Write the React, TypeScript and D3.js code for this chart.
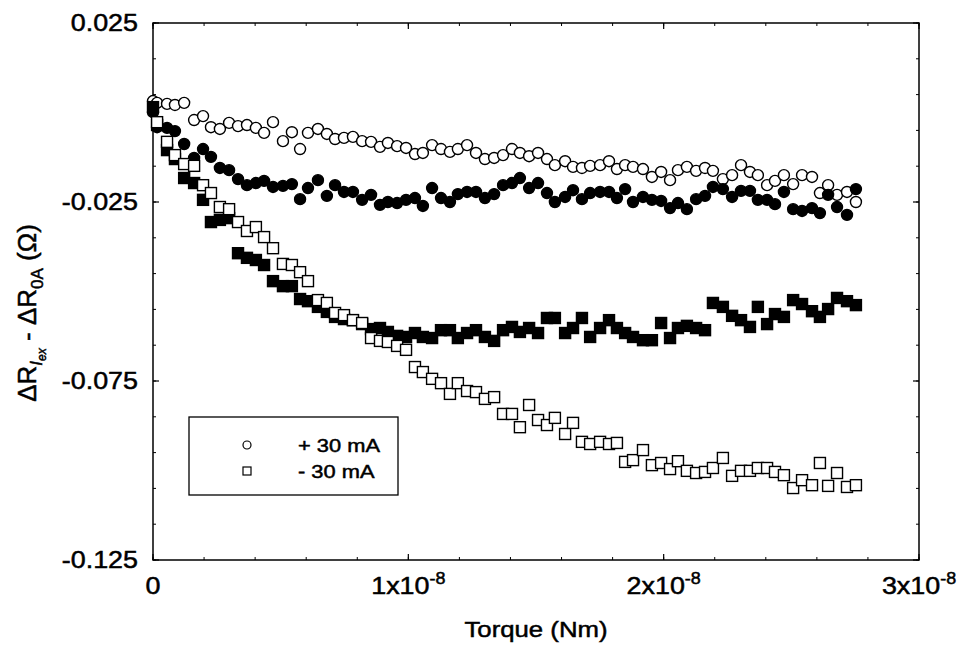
import React from 'react';
import * as d3 from 'd3';

// Torque values (N·m), shared by all four series
const torque = [
  0, 0.016e-8, 0.055e-8, 0.086e-8, 0.122e-8, 0.161e-8, 0.196e-8, 0.227e-8, 0.262e-8, 0.298e-8,
  0.333e-8, 0.368e-8, 0.403e-8, 0.435e-8, 0.470e-8, 0.509e-8, 0.544e-8, 0.576e-8, 0.607e-8, 0.646e-8,
  0.681e-8, 0.713e-8, 0.748e-8, 0.783e-8, 0.819e-8, 0.854e-8, 0.889e-8, 0.920e-8, 0.956e-8, 0.991e-8,
  1.026e-8, 1.057e-8, 1.093e-8, 1.128e-8, 1.163e-8, 1.194e-8, 1.230e-8, 1.265e-8, 1.300e-8, 1.336e-8,
  1.371e-8, 1.406e-8, 1.437e-8, 1.473e-8, 1.508e-8, 1.543e-8, 1.574e-8, 1.614e-8, 1.645e-8, 1.680e-8,
  1.712e-8, 1.751e-8, 1.786e-8, 1.817e-8, 1.849e-8, 1.880e-8, 1.919e-8, 1.954e-8, 1.990e-8, 2.025e-8,
  2.056e-8, 2.091e-8, 2.127e-8, 2.162e-8, 2.193e-8, 2.232e-8, 2.268e-8, 2.303e-8, 2.338e-8, 2.369e-8,
  2.405e-8, 2.436e-8, 2.471e-8, 2.507e-8, 2.542e-8, 2.581e-8, 2.612e-8, 2.644e-8, 2.679e-8, 2.718e-8,
  2.753e-8,
];

// + 30 mA (open circles)
const plus30Open = [
  0.0032, 0.0027, 0.0024, 0.0021, 0.0027, -0.0021, -0.0010, -0.0041, -0.0046, -0.0029,
  -0.0038, -0.0035, -0.0043, -0.0057, -0.0027, -0.0080, -0.0055, -0.0102, -0.0057, -0.0046,
  -0.0060, -0.0074, -0.0071, -0.0068, -0.0080, -0.0082, -0.0096, -0.0085, -0.0094, -0.0099,
  -0.0116, -0.0113, -0.0091, -0.0102, -0.0110, -0.0102, -0.0091, -0.0113, -0.0130, -0.0127,
  -0.0119, -0.0102, -0.0113, -0.0122, -0.0113, -0.0130, -0.0147, -0.0136, -0.0152, -0.0155,
  -0.0149, -0.0147, -0.0136, -0.0158, -0.0147, -0.0152, -0.0158, -0.0180, -0.0166, -0.0189,
  -0.0161, -0.0152, -0.0163, -0.0155, -0.0163, -0.0186, -0.0175, -0.0147, -0.0166, -0.0175,
  -0.0203, -0.0191, -0.0175, -0.0200, -0.0175, -0.0180, -0.0225, -0.0203, -0.0230, -0.0222,
  -0.0250,
];

// filled circles
const plus30Filled = [
  0.0001, -0.0041, -0.0043, -0.0052, -0.0088, -0.0127, -0.0102, -0.0124, -0.0155, -0.0161,
  -0.0186, -0.0203, -0.0197, -0.0191, -0.0208, -0.0205, -0.0200, -0.0242, -0.0211, -0.0189,
  -0.0233, -0.0203, -0.0222, -0.0222, -0.0244, -0.0230, -0.0258, -0.0250, -0.0253, -0.0244,
  -0.0239, -0.0261, -0.0211, -0.0239, -0.0250, -0.0228, -0.0222, -0.0222, -0.0239, -0.0228,
  -0.0203, -0.0197, -0.0183, -0.0211, -0.0197, -0.0225, -0.0250, -0.0236, -0.0217, -0.0242,
  -0.0225, -0.0222, -0.0222, -0.0239, -0.0214, -0.0250, -0.0236, -0.0244, -0.0247, -0.0267,
  -0.0253, -0.0270, -0.0242, -0.0233, -0.0208, -0.0214, -0.0236, -0.0219, -0.0219, -0.0244,
  -0.0244, -0.0256, -0.0222, -0.0270, -0.0275, -0.0267, -0.0281, -0.0230, -0.0264, -0.0286,
  -0.0214,
];

// filled squares
const minus30Filled = [
  0.0015, -0.0035, -0.0105, -0.0130, -0.0183, -0.0197, -0.0244, -0.0306, -0.0300, -0.0295,
  -0.0393, -0.0406, -0.0412, -0.0426, -0.0471, -0.0485, -0.0485, -0.0521, -0.0527, -0.0543,
  -0.0557, -0.0571, -0.0577, -0.0580, -0.0591, -0.0605, -0.0602, -0.0613, -0.0624, -0.0627,
  -0.0616, -0.0627, -0.0630, -0.0608, -0.0608, -0.0630, -0.0616, -0.0608, -0.0627, -0.0638,
  -0.0608, -0.0599, -0.0613, -0.0602, -0.0616, -0.0574, -0.0574, -0.0616, -0.0602, -0.0574,
  -0.0627, -0.0602, -0.0580, -0.0602, -0.0616, -0.0627, -0.0636, -0.0636, -0.0588, -0.0630,
  -0.0602, -0.0596, -0.0602, -0.0608, -0.0532, -0.0543, -0.0568, -0.0580, -0.0599, -0.0543,
  -0.0591, -0.0563, -0.0571, -0.0524, -0.0535, -0.0555, -0.0571, -0.0549, -0.0518, -0.0527,
  -0.0538,
];

// - 30 mA (open squares)
const minus30Open: (number | null)[] = [
  null, -0.0027, -0.0082, -0.0119, -0.0144, -0.0149, -0.0203, -0.0225, -0.0264, -0.0270,
  -0.0306, -0.0331, -0.0320, -0.0348, -0.0379, -0.0423, -0.0426, -0.0446, -0.0471, -0.0524,
  -0.0532, -0.0560, -0.0566, -0.0580, -0.0588, -0.0630, -0.0638, -0.0641, -0.0652, -0.0663,
  -0.0711, -0.0725, -0.0744, -0.0756, -0.0786, -0.0756, -0.0778, -0.0781, -0.0800, -0.0795,
  -0.0842, -0.0842, -0.0879, -0.0817, -0.0859, -0.0873, -0.0853, -0.0898, -0.0867, -0.0920,
  -0.0926, -0.0920, -0.0926, -0.0923, -0.0976, -0.0971, -0.0943, -0.0985, -0.0979, -0.0996,
  -0.0974, -0.1001, -0.1007, -0.1004, -0.0993, -0.0965, -0.1015, -0.1001, -0.1001, -0.0993,
  -0.0993, -0.1004, -0.1013, -0.1049, -0.1027, -0.1041, -0.0979, -0.1043, -0.1007, -0.1046,
  -0.1041,
];

const xMajorTicks = [0, 1e-8, 2e-8, 3e-8];
const xMajorLabels = [
  { base: '0', exp: '' },
  { base: '1x10', exp: '-8' },
  { base: '2x10', exp: '-8' },
  { base: '3x10', exp: '-8' },
];
const yMajorTicks = [0.025, -0.025, -0.075, -0.125];
const yMajorLabels = ['0.025', '-0.025', '-0.075', '-0.125'];
const xMinorStep = 0.2e-8;
const yMinorStep = 0.01;

const legendItems = [
  { symbol: 'circle', label: '+ 30 mA' },
  { symbol: 'square', label: '- 30 mA' },
];

const FONT = 'Liberation Sans, Arial, Helvetica, sans-serif';

export default function App() {
  const W = 959, H = 645;
  const x = d3.scaleLinear().domain([0, 3e-8]).range([153, 919]);
  const y = d3.scaleLinear().domain([-0.125, 0.025]).range([560, 23]);
  const [x0, x1] = x.range();
  const [y0, y1] = y.range();

  const pts = (vals: (number | null)[]) =>
    torque.map((t, i) => ({ t, v: vals[i] })).filter((d) => d.v !== null && d.v !== undefined) as { t: number; v: number }[];

  const xMinor = d3.range(0, 3e-8 + 1e-12, xMinorStep);
  const yMinor = d3.range(-0.125, 0.025 + 1e-9, yMinorStep);

  const R = 5.5;
  const S = 11;
  const sw = 1.4;

  const sx = 1.12;
  const textStroke = { stroke: '#000', strokeWidth: 0.5 };

  return (
    <svg width={W} height={H} style={{ position: 'absolute', left: 0, top: 0, background: '#fff' }} fontFamily={FONT}>
      <rect x={0} y={0} width={W} height={H} fill="#fff" />
      {/* minor ticks */}
      {xMinor.map((t, i) => (
        <g key={'xm' + i} stroke="#000" strokeWidth={1}>
          <line x1={x(t)} x2={x(t)} y1={y0} y2={y0 - 3} />
          <line x1={x(t)} x2={x(t)} y1={y1} y2={y1 + 3} />
        </g>
      ))}
      {yMinor.map((v, i) => (
        <g key={'ym' + i} stroke="#000" strokeWidth={1}>
          <line x1={x0} x2={x0 + 3} y1={y(v)} y2={y(v)} />
          <line x1={x1} x2={x1 - 3} y1={y(v)} y2={y(v)} />
        </g>
      ))}
      {xMajorTicks.map((t, i) => (
        <g key={'xM' + i} stroke="#000" strokeWidth={1.2}>
          <line x1={x(t)} x2={x(t)} y1={y0} y2={y0 - 6} />
          <line x1={x(t)} x2={x(t)} y1={y1} y2={y1 + 6} />
        </g>
      ))}
      {yMajorTicks.map((v, i) => (
        <g key={'yM' + i} stroke="#000" strokeWidth={1.2}>
          <line x1={x0} x2={x0 + 6} y1={y(v)} y2={y(v)} />
          <line x1={x1} x2={x1 - 6} y1={y(v)} y2={y(v)} />
        </g>
      ))}
      {/* frame */}
      <rect x={x0} y={y1} width={x1 - x0} height={y0 - y1} fill="none" stroke="#000" strokeWidth={1.5} />

      {/* tick labels */}
      {yMajorTicks.map((v, i) => (
        <text key={'yl' + i} transform={`translate(${x0 - 15},${y(v) + 8}) scale(${sx},1)`} textAnchor="end" fontSize={24} fill="#000" {...textStroke}>
          {yMajorLabels[i]}
        </text>
      ))}
      {xMajorTicks.map((t, i) => (
        <text key={'xl' + i} transform={`translate(${x(t)},${594}) scale(${sx},1)`} textAnchor="middle" fontSize={24} fill="#000" {...textStroke}>
          {xMajorLabels[i].base}
          {xMajorLabels[i].exp ? (
            <tspan dy={-10} fontSize={16}>{xMajorLabels[i].exp}</tspan>
          ) : null}
        </text>
      ))}

      {/* axis titles */}
      <text transform={`translate(${(x0 + x1) / 2},${637}) scale(${sx},1)`} textAnchor="middle" fontSize={23} fill="#000" {...textStroke}>
        Torque (Nm)
      </text>
      <text transform={`translate(36,313) rotate(-90)`} textAnchor="middle" fontSize={26} fill="#000" {...textStroke}>
        <tspan>ΔR</tspan>
        <tspan dy={6} fontSize={17} fontStyle="italic">I</tspan>
        <tspan dy={4} fontSize={12} fontStyle="italic">ex</tspan>
        <tspan dy={-10}> - ΔR</tspan>
        <tspan dy={7} fontSize={17}>0A</tspan>
        <tspan dy={-7}> (Ω)</tspan>
      </text>

      {/* data */}
      <g fill="#fff" stroke="#000" strokeWidth={sw}>
        {pts(plus30Open).map((d, i) => (
          <circle key={'oc' + i} cx={x(d.t)} cy={y(d.v)} r={R} />
        ))}
      </g>
      <g fill="#000" stroke="#000" strokeWidth={sw}>
        {pts(plus30Filled).map((d, i) => (
          <circle key={'fc' + i} cx={x(d.t)} cy={y(d.v)} r={R} />
        ))}
      </g>
      <g fill="#000" stroke="#000" strokeWidth={sw}>
        {pts(minus30Filled).map((d, i) => (
          <rect key={'fs' + i} x={x(d.t) - S / 2} y={y(d.v) - S / 2} width={S} height={S} />
        ))}
      </g>
      <g fill="#fff" stroke="#000" strokeWidth={sw}>
        {pts(minus30Open).map((d, i) => (
          <rect key={'os' + i} x={x(d.t) - S / 2} y={y(d.v) - S / 2} width={S} height={S} />
        ))}
      </g>

      {/* legend */}
      <rect x={189} y={417} width={209} height={78} fill="#fff" stroke="#000" strokeWidth={1.3} />
      {legendItems.map((it, i) => {
        const cy = 445 + i * 26;
        return (
          <g key={'lg' + i}>
            {it.symbol === 'circle' ? (
              <circle cx={247} cy={cy} r={4} fill="#fff" stroke="#000" strokeWidth={1.2} />
            ) : (
              <rect x={243} y={cy - 4} width={8} height={8} fill="#fff" stroke="#000" strokeWidth={1.2} />
            )}
            <text transform={`translate(298,${cy + 7}) scale(1.15,1)`} fontSize={19} fill="#000" {...textStroke}>
              {it.label}
            </text>
          </g>
        );
      })}
    </svg>
  );
}
